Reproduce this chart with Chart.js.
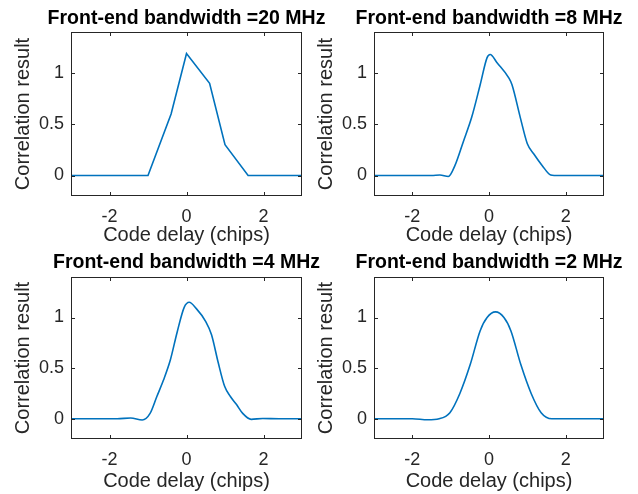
<!DOCTYPE html>
<html><head><meta charset="utf-8">
<script src="https://cdn.jsdelivr.net/npm/chart.js@4/dist/chart.umd.min.js"></script>
<style>
html,body{margin:0;padding:0;background:#fff;}
#wrap{position:relative;width:638px;height:494px;overflow:hidden;background:#fff;}
canvas{position:absolute;}
</style></head><body>
<div id="wrap">
<canvas id="c1" width="373" height="247" style="left:0px;top:0px"></canvas>
<canvas id="c2" width="358" height="247" style="left:310px;top:0px"></canvas>
<canvas id="c3" width="373" height="247" style="left:0px;top:247px"></canvas>
<canvas id="c4" width="358" height="247" style="left:310px;top:247px"></canvas>
</div>
<script>
// ---- data ----
const titles = ['Front-end bandwidth =20 MHz', 'Front-end bandwidth =8 MHz', 'Front-end bandwidth =4 MHz', 'Front-end bandwidth =2 MHz'];
const xLabel = 'Code delay (chips)';
const yLabel = 'Correlation result';
const xTicks = [-2, 0, 2];
const yTicks = [0, 0.5, 1];

const delay20 = [-3, -1, -0.4, 0, 0.6, 1, 1.6, 3];
const corr20  = [0, 0, 0.6, 1.19, 0.9, 0.3, 0, 0];

const delay8 = [-3, -1.5, -1.28, -1.06, -0.89, -0.67, -0.45, -0.23, -0.05, 0.03, 0.21, 0.52, 0.60, 0.82, 1.0, 1.17, 1.39, 1.61, 1.70, 3];
const corr8  = [0, 0, 0.005, -0.01, 0.096, 0.33, 0.57, 0.885, 1.15, 1.18, 1.10, 0.95, 0.885, 0.56, 0.31, 0.21, 0.096, 0.004, 0, 0];

const delay4 = [-3, -1.8, -1.45, -1.15, -0.95, -0.77, -0.6, -0.42, -0.24, -0.06, 0.07, 0.25, 0.5, 0.65, 0.82, 0.99, 1.14, 1.3, 1.46, 1.68, 1.98, 2.4, 3];
const corr4  = [0, 0, 0.008, -0.013, 0.05, 0.22, 0.38, 0.58, 0.86, 1.10, 1.15, 1.09, 0.96, 0.83, 0.56, 0.32, 0.22, 0.14, 0.053, -0.006, 0.003, 0, 0];

const delay2 = [-3, -2, -1.6, -1.3, -1.02, -0.76, -0.49, -0.23, -0.05, 0.17, 0.39, 0.57, 0.83, 1.1, 1.36, 1.64, 1.95, 2.3, 3];
const corr2  = [0, 0, -0.01, 0.0, 0.06, 0.25, 0.535, 0.87, 1.0, 1.056, 1.0, 0.87, 0.535, 0.25, 0.06, 0.0, 0, 0, 0];

// ---- drawing ----
const FAMILY = '"Liberation Sans", Arial, Helvetica, sans-serif';
const AXC = '#262626';

const boxPlugin = {
  id: 'matlabBox',
  afterDatasetsDraw(chart) {
    const {ctx, chartArea: a, scales: {x, y}} = chart;
    ctx.save();
    ctx.strokeStyle = AXC;
    ctx.lineWidth = 1;
    const L = Math.round(a.left) + 0.5, R = Math.round(a.right) - 0.5;
    const T = Math.round(a.top) + 0.5, B = Math.round(a.bottom) - 0.5;
    ctx.strokeRect(L, T, R - L, B - T);
    const tl = 3.5;
    ctx.beginPath();
    xTicks.forEach(v => {
      const p = Math.round(x.getPixelForValue(v)) + 0.5;
      ctx.moveTo(p, B); ctx.lineTo(p, B - tl);
      ctx.moveTo(p, T); ctx.lineTo(p, T + tl);
    });
    yTicks.forEach(v => {
      const p = Math.round(y.getPixelForValue(v)) + 0.5;
      ctx.moveTo(L, p); ctx.lineTo(L + tl, p);
      ctx.moveTo(R, p); ctx.lineTo(R - tl, p);
    });
    ctx.stroke();
    ctx.restore();
  }
};

function makeChart(id, title, xs, ys, right, bottomRow, smooth) {
  const yw = right ? 64 : 71;          // left axis box width
  const rw = right ? 64 : 71;          // empty right axis box (keeps title centred over the axes)
  const xh = bottomRow ? 55 : 51;
  const tPad = bottomRow ? {top: 6.25, bottom: 4.25} : {top: 8.5, bottom: 4};
  const xtb = bottomRow ? 3 : 1.5;
  const ytp = right ? 6 : 13;
  const ds = {
    data: xs.map((v, i) => ({x: v, y: ys[i]})),
    borderColor: '#0072BD',
    borderWidth: 1.6,
    pointRadius: 0,
    fill: false,
    yAxisID: 'y'
  };
  if (smooth) ds.cubicInterpolationMode = 'monotone'; else ds.tension = 0;
  return new Chart(document.getElementById(id), {
    type: 'line',
    data: {datasets: [ds]},
    plugins: [boxPlugin],
    options: {
      responsive: false,
      animation: false,
      devicePixelRatio: 1,
      layout: {padding: 0},
      plugins: {
        legend: {display: false},
        tooltip: {enabled: false},
        title: {
          display: true, text: title, color: '#000',
          font: {family: FAMILY, size: 19.5, weight: 'bold', lineHeight: 1},
          padding: tPad
        }
      },
      scales: {
        x: {
          type: 'linear', min: -3, max: 3,
          grid: {display: false, drawTicks: false},
          border: {display: false},
          afterBuildTicks: s => { s.ticks = xTicks.map(v => ({value: v})); },
          afterFit: s => { s.height = xh; },
          ticks: {color: AXC, font: {family: FAMILY, size: 18}, padding: 10, maxRotation: 0, autoSkip: false, callback: v => String(v)},
          title: {display: true, text: xLabel, color: AXC, font: {family: FAMILY, size: 20, lineHeight: 1}, padding: {top: 0, bottom: xtb}}
        },
        y: {
          type: 'linear', position: 'left', min: -0.2, max: 1.4,
          grid: {display: false, drawTicks: false},
          border: {display: false},
          afterBuildTicks: s => { s.ticks = yTicks.map(v => ({value: v})); },
          afterFit: s => { s.width = yw; },
          ticks: {color: AXC, font: {family: FAMILY, size: 18}, padding: 7, autoSkip: false, callback: v => String(v)},
          title: {display: true, text: yLabel, color: AXC, font: {family: FAMILY, size: 20, lineHeight: 1}, padding: {top: ytp, bottom: 0}}
        },
        yRight: {
          type: 'linear', position: 'right', min: -0.2, max: 1.4,
          grid: {display: false, drawTicks: false},
          border: {display: false},
          ticks: {display: false},
          afterFit: s => { s.width = rw; }
        }
      }
    }
  });
}

makeChart('c1', titles[0], delay20, corr20, false, false, false);
makeChart('c2', titles[1], delay8, corr8, true, false, true);
makeChart('c3', titles[2], delay4, corr4, false, true, true);
makeChart('c4', titles[3], delay2, corr2, true, true, true);
</script>
</body></html>
